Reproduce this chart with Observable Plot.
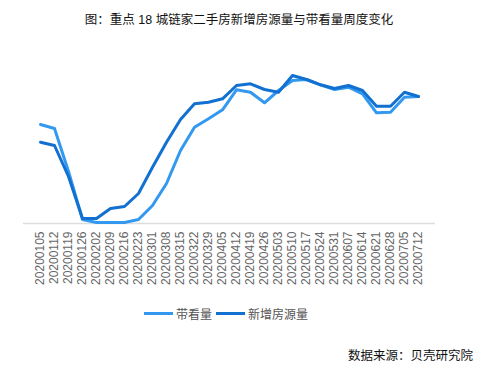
<!DOCTYPE html>
<html>
<head>
<meta charset="utf-8">
<script src="https://cdn.jsdelivr.net/npm/d3@7"></script>
<script src="https://cdn.jsdelivr.net/npm/@observablehq/plot@0.6"></script>
<style>
  html, body { margin: 0; padding: 0; background: #fff; }
  body { width: 478px; height: 368px; position: relative; overflow: hidden;
         font-family: "Liberation Sans", "Noto Sans CJK SC", sans-serif; }
  #chart { position: absolute; left: 0; top: 0; }
  .title { position: absolute; left: 0; width: 478px; top: 9px; text-align: center;
           font-size: 12.5px; color: #111; white-space: nowrap; }
  .legend { position: absolute; top: 305px; left: 144px; display: flex; align-items: center;
            font-size: 12px; color: #555; white-space: nowrap; }
  .legend .sw { display: inline-block; width: 29px; height: 3px; margin-right: 3px; }
  .legend .item { display: flex; align-items: center; margin-right: 4px; }
  .source { position: absolute; right: 5px; top: 345px; font-size: 12.5px; color: #111; white-space: nowrap; }
</style>
</head>
<body>
<div id="chart"></div>
<div class="title">图：重点 18 城链家二手房新增房源量与带看量周度变化</div>
<div class="legend" id="legend"></div>
<div class="source">数据来源：贝壳研究院</div>
<script>
const weeks = ["20200105","20200112","20200119","20200126","20200202","20200209","20200216","20200223",
  "20200301","20200308","20200315","20200322","20200329","20200405","20200412","20200419","20200426",
  "20200503","20200510","20200517","20200524","20200531","20200607","20200614","20200621","20200628",
  "20200705","20200712"];
const seriesNames = ["带看量", "新增房源量"];
const seriesColors = ["#3399f0", "#1170d0"];
const daikan = [99, 95, 52, 4, 1, 1, 1, 4, 18, 40, 73, 96.3, 104.7, 113.7, 133.7, 131.3, 120.7, 133, 143, 144, 138.7, 134, 136.3, 129.7, 110.7, 111.3, 126.3, 127];
const xinzeng = [81.3, 78, 47, 5, 5, 15, 17, 30, 56.3, 81.3, 104, 119.7, 121.3, 124.7, 138, 139.7, 134, 131.3, 148, 144, 138.7, 135, 138, 133, 117.3, 117.3, 131.3, 127];

const rows = [];
weeks.forEach((w, i) => rows.push({week: w, value: daikan[i], series: seriesNames[0]}));
weeks.forEach((w, i) => rows.push({week: w, value: xinzeng[i], series: seriesNames[1]}));

const plot = Plot.plot({
  width: 478,
  height: 368,
  marginTop: 73,
  marginBottom: 145,
  marginLeft: 23,
  marginRight: 43,
  style: {fontFamily: '"Liberation Sans", "Noto Sans CJK SC", sans-serif', fontSize: "12px", background: "transparent"},
  x: {type: "point", domain: weeks, padding: 0.5},
  y: {domain: [0, 150], axis: null},
  color: {domain: seriesNames, range: seriesColors},
  marks: [
    Plot.ruleY([0], {stroke: "#dddddd", strokeWidth: 1.5}),
    Plot.axisX({tickSize: 0, tickPadding: 8, tickRotate: -90, fill: "#666", fontSize: 12, label: null}),
    Plot.line(rows, {x: "week", y: "value", z: "series", stroke: "series", strokeWidth: 3, strokeLinejoin: "round", curve: "linear"})
  ]
});
document.getElementById("chart").appendChild(plot);

const legend = document.getElementById("legend");
seriesNames.forEach((name, i) => {
  const item = document.createElement("span");
  item.className = "item";
  const sw = document.createElement("span");
  sw.className = "sw";
  sw.style.background = seriesColors[i];
  item.appendChild(sw);
  item.appendChild(document.createTextNode(name));
  legend.appendChild(item);
});
</script>
</body>
</html>
